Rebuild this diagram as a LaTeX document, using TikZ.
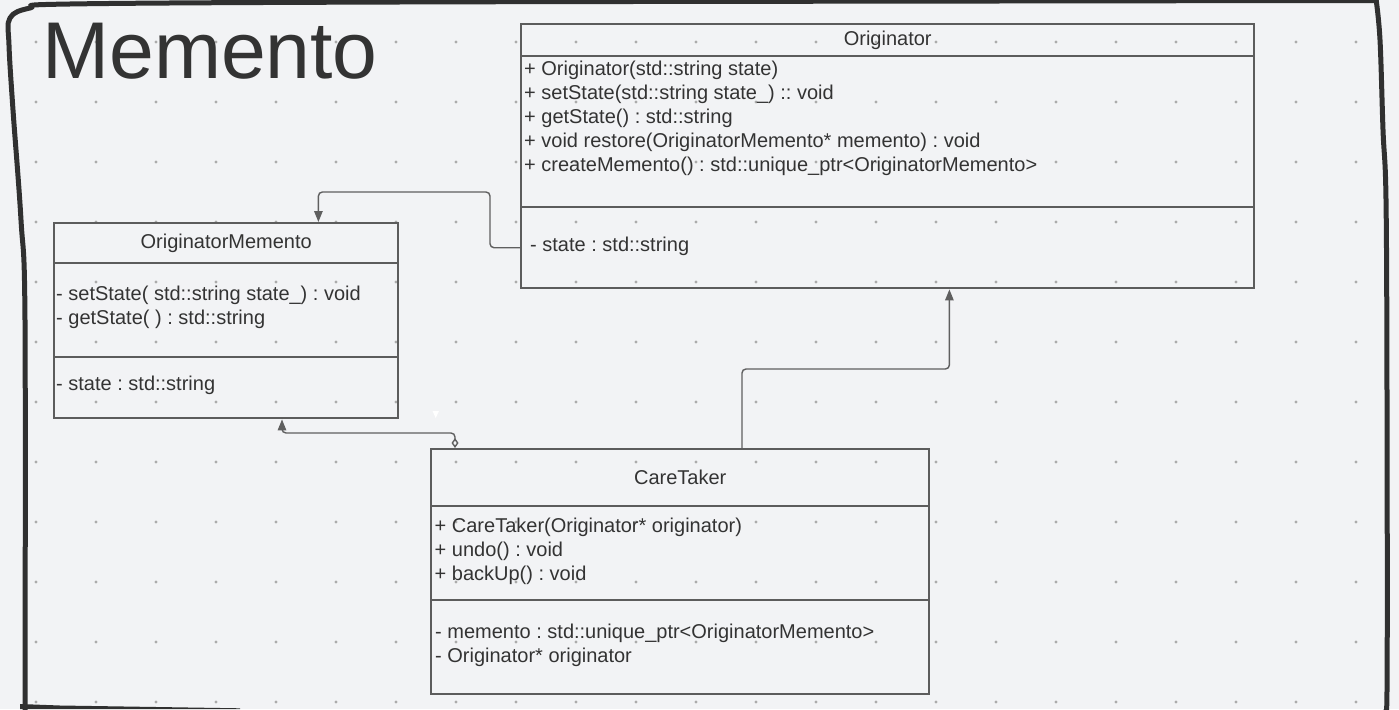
\documentclass[tikz,border=0pt]{standalone}
\usepackage{fontspec}
\setmainfont{Liberation Sans}
\usetikzlibrary{arrows.meta}
\definecolor{bgcolor}{HTML}{F2F3F5}
\definecolor{dotgray}{HTML}{ABABAB}
\definecolor{boxgray}{HTML}{5C5C5C}
\definecolor{linegray}{HTML}{5F5F5F}
\definecolor{textgray}{HTML}{333333}
\definecolor{framegray}{HTML}{303030}
\frenchspacing

\begin{document}
\begin{tikzpicture}[
  compart/.style={draw=boxgray, line width=2.4pt, rectangle, inner sep=0pt, anchor=north west, text=textgray, font=\fontsize{20pt}{24pt}\selectfont},
  members/.style={anchor=north west, inner sep=0pt, align=left, text=textgray, font=\fontsize{20pt}{24pt}\selectfont},
  conn/.style={draw=linegray, line width=1.4pt, rounded corners=4pt, -{Triangle[length=11pt,width=8.5pt]}},
  frameline/.style={draw=framegray, line width=5pt, line cap=round, line join=round}]
  \useasboundingbox (0pt,0pt) rectangle (1399pt,-709pt);
  \fill[bgcolor] (0pt,0pt) rectangle (1399pt,-709pt);
  % dotted grid
  \foreach \i in {0,...,22}
    \foreach \j in {0,...,11}
      \fill[dotgray] (36pt+60pt*\i, -42pt-60pt*\j) circle (1.7pt);

  \draw (42pt, -78.5pt)node[anchor=base west, inner sep=0pt, text=textgray, font=\fontsize{80.5pt}{90pt}\selectfont](title){Memento};

  % Originator
  \draw (520pt, -23pt)node[compart, minimum width=733pt, minimum height=32pt](origTitle){Originator};
  \draw (520pt, -55pt)node[compart, minimum width=733pt, minimum height=151pt](origOps){};
  \draw (520pt, -206pt)node[compart, minimum width=733pt, minimum height=81pt](origAttr){};
  \draw (524pt, -60.5pt)node[members](origOpsText){+ Originator(std::string state)\\ + setState(std::string state\_) :: void\\ + getState() : std::string\\ + void restore(OriginatorMemento* memento) : void\\ + createMemento() : std::unique\_ptr<OriginatorMemento>};
  \draw (530pt, -237pt)node[members](origAttrText){- state : std::string};

  % OriginatorMemento
  \draw (53pt, -222pt)node[compart, minimum width=344pt, minimum height=40pt](memTitle){OriginatorMemento};
  \draw (53pt, -262pt)node[compart, minimum width=344pt, minimum height=94pt](memOps){};
  \draw (53pt, -356pt)node[compart, minimum width=344pt, minimum height=61pt](memAttr){};
  \draw (56pt, -286pt)node[members](memOpsText){- setState( std::string state\_) : void\\ - getState( ) : std::string};
  \draw (56pt, -376pt)node[members](memAttrText){- state : std::string};

  % CareTaker
  \draw (430pt, -448pt)node[compart, minimum width=498pt, minimum height=57pt](ctTitle){CareTaker};
  \draw (430pt, -505pt)node[compart, minimum width=498pt, minimum height=94pt](ctOps){};
  \draw (430pt, -599pt)node[compart, minimum width=498pt, minimum height=94pt](ctAttr){};
  \draw (434.5pt, -518pt)node[members](ctOpsText){+ CareTaker(Originator* originator)\\ + undo() : void\\ + backUp() : void};
  \draw (435pt, -623.5pt)node[members](ctAttrText){- memento : std::unique\_ptr<OriginatorMemento>\\ - Originator* originator};

  % connectors
  \draw[conn] (origAttr.west) -- ++(-30pt,0) |- ([xshift=-81pt, yshift=30pt]memTitle.north east) -- ([xshift=-81pt]memTitle.north east);
  \draw[conn] ([xshift=312pt]ctTitle.north west) -- ++(0,79pt) -| ([xshift=-306pt]origAttr.south east);
  \draw[conn, {Diamond[length=10pt,width=7pt,fill=bgcolor]}-{Triangle[length=11pt,width=8.5pt]}] ([xshift=25pt]ctTitle.north west) -- ++(0,15pt) -| ([xshift=229pt]memAttr.south west);
  \fill[white] (432.5pt,-411pt) -- (439pt,-411pt) -- (435.7pt,-418pt) -- cycle;

  % frame
  \draw[frameline] plot[smooth, tension=0.6] coordinates {(25pt,-712pt) (25pt,-320pt) (21pt,-220pt) (13pt,-110pt) (9pt,-45pt) (10pt,-18pt) (30pt,-8pt) (70pt,-4pt) (400pt,-2pt) (1000pt,-1pt) (1376pt,-0.5pt)};
  \draw[frameline] plot[smooth, tension=0.6] coordinates {(1376pt,1pt) (1380pt,-40pt) (1383pt,-130pt) (1386pt,-200pt) (1387pt,-400pt) (1387pt,-690pt) (1384pt,-712pt)};
  \fill[framegray] (20pt,-704pt) -- (60pt,-705.5pt) -- (240pt,-708.3pt) -- (240pt,-709pt) -- (20pt,-709pt) -- cycle;
\end{tikzpicture}
\end{document}
